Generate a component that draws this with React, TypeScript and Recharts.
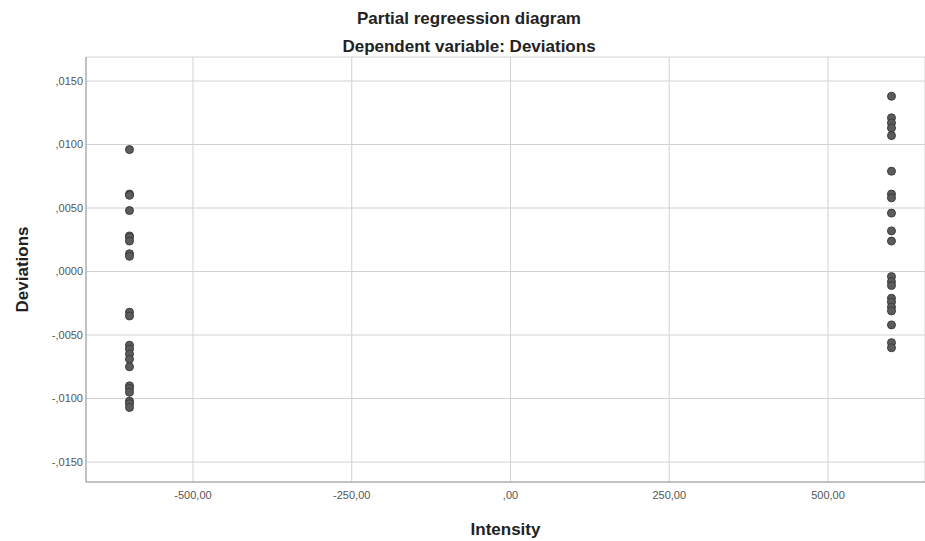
import { ScatterChart, Scatter, XAxis, YAxis, CartesianGrid } from "recharts";

// two intensity levels, residual deviations
const intensityLevels = [-600, 600];

const lowDeviations = [
  0.0096, 0.0061, 0.006, 0.0048, 0.0028, 0.0027, 0.0024, 0.0014, 0.0012,
  -0.0032, -0.0035, -0.0058, -0.0061, -0.0065, -0.0069, -0.0075,
  -0.009, -0.0092, -0.0095, -0.0102, -0.0104, -0.0107,
];

const highDeviations = [
  0.0138, 0.0121, 0.0117, 0.0113, 0.0107, 0.0079, 0.0061, 0.0058, 0.0046,
  0.0032, 0.0024, -0.0004, -0.0008, -0.0011, -0.0021, -0.0024, -0.0028,
  -0.0031, -0.0042, -0.0056, -0.006,
];

const xTicks = [-500, -250, 0, 250, 500];
const yTicks = [-0.015, -0.01, -0.005, 0, 0.005, 0.01, 0.015];

const points = [
  ...lowDeviations.map((y) => ({ x: intensityLevels[0], y })),
  ...highDeviations.map((y) => ({ x: intensityLevels[1], y })),
];

const FONT = "'Liberation Sans', Arial, sans-serif";

// SPSS style: comma decimal, no leading zero
function fmtY(v: number) {
  const s = Math.abs(v).toFixed(4).replace(/^0\./, ",");
  return (v < 0 ? "-" : "") + s;
}
function fmtX(v: number) {
  if (v === 0) return ",00";
  return v.toFixed(2).replace(".", ",");
}

const tickStyle = { fontSize: 11, fill: "#555", fontFamily: FONT };
const titleStyle = { position: "absolute" as const, left: 0, width: 938, textAlign: "center" as const, fontSize: 17, fontWeight: "bold" as const, color: "#222" };

function Dot(p: any) {
  return <circle cx={p.cx} cy={p.cy} r={4} fill="#5c5c5c" stroke="#3c3c3c" strokeWidth={1} />;
}

export default function App() {
  return (
    <div style={{ position: "relative", width: 925, height: 541, background: "#fff", fontFamily: FONT }}>
      <style>{`body{margin:0}`}</style>
      <div style={{ ...titleStyle, top: 9 }}>Partial regreession diagram</div>
      <div style={{ ...titleStyle, top: 37 }}>Dependent variable: Deviations</div>
      <ScatterChart width={925} height={541} margin={{ top: 57, right: 0, bottom: 0, left: 0 }}>
        <CartesianGrid stroke="#d2d2d2" />
        <XAxis
          type="number"
          dataKey="x"
          domain={[-668.5, 652.8]}
          ticks={xTicks}
          tickFormatter={fmtX}
          tick={tickStyle}
          stroke="#999"
          tickLine={false}
          tickSize={0}
          tickMargin={9}
          height={59}
          allowDataOverflow
          label={{ value: "Intensity", position: "insideBottom", offset: 6, style: { fontSize: 17, fontWeight: "bold", fill: "#222", fontFamily: FONT } }}
        />
        <YAxis
          type="number"
          dataKey="y"
          domain={[-0.01657, 0.01689]}
          ticks={yTicks}
          tickFormatter={fmtY}
          tick={tickStyle}
          stroke="#999"
          tickLine={false}
          tickSize={0}
          tickMargin={3}
          width={86}
          allowDataOverflow
          label={{
            content: (props: any) => {
              const vb = props.viewBox;
              const cy = vb.y + vb.height / 2;
              return (
                <text x={22} y={cy} transform={`rotate(-90 22 ${cy})`} textAnchor="middle" dominantBaseline="central"
                  style={{ fontSize: 17, fontWeight: "bold", fill: "#222", fontFamily: FONT }}>
                  Deviations
                </text>
              );
            },
          }}
        />
        <Scatter data={points} shape={Dot} isAnimationActive={false} />
      </ScatterChart>
    </div>
  );
}
